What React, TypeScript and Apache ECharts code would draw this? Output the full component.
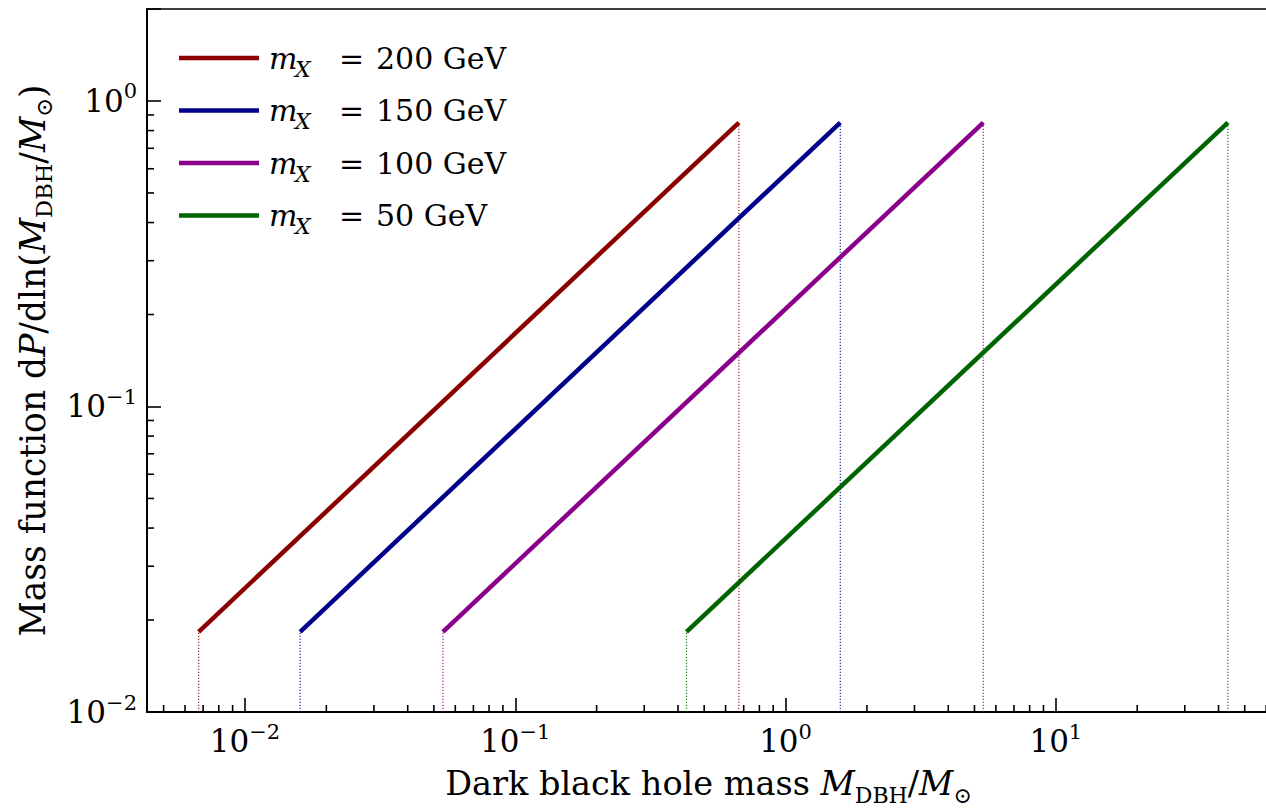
import React, { useEffect, useRef } from 'react';
import * as echarts from 'echarts';

const FONT = 'DejaVu Serif';

// Series data
const massValues = ['200', '150', '100', '50'];
const lineColors = ['#8b0000', '#00008b', '#8b008b', '#006400'];
const massStart = [0.00674, 0.016, 0.054, 0.43];
const massEnd = [0.672, 1.594, 5.39, 43.3];
const probStart = [0.0183, 0.0183, 0.0183, 0.0183];
const probEnd = [0.85, 0.85, 0.85, 0.85];

// Axis ranges and ticks
const xRange = [0.00434, 62];
const yRange = [0.01, 2];
const xMinorTicks = [
  0.005, 0.006, 0.007, 0.008, 0.009,
  0.02, 0.03, 0.04, 0.05, 0.06, 0.07, 0.08, 0.09,
  0.2, 0.3, 0.4, 0.5, 0.6, 0.7, 0.8, 0.9,
  2, 3, 4, 5, 6, 7, 8, 9,
  20, 30, 40, 50, 60,
];
const yMinorTicks = [
  0.02, 0.03, 0.04, 0.05, 0.06, 0.07, 0.08, 0.09,
  0.2, 0.3, 0.4, 0.5, 0.6, 0.7, 0.8, 0.9,
];

const tickRich = {
  b: { fontFamily: FONT, fontSize: 31, lineHeight: 40, color: '#000' },
  s: { fontFamily: FONT, fontSize: 21, lineHeight: 24, verticalAlign: 'top', color: '#000' },
};

const nameRich = {
  n: { fontFamily: FONT, fontSize: 33.5, lineHeight: 46, color: '#000' },
  i: { fontFamily: FONT, fontSize: 33.5, lineHeight: 46, fontStyle: 'italic', color: '#000' },
  sub: { fontFamily: FONT, fontSize: 22, lineHeight: 28, verticalAlign: 'bottom', color: '#000' },
};

const yNameRich = {
  n: { ...nameRich.n, fontSize: 34.5 },
  i: { ...nameRich.i, fontSize: 34.5 },
  sub: { ...nameRich.sub, fontSize: 22.5 },
};

function powLabel(v: number): string {
  const e = Math.log10(v);
  const r = Math.round(e);
  if (Math.abs(e - r) > 1e-6) return '';
  const exp = r < 0 ? '\u2212' + Math.abs(r) : String(r);
  return `{b|10}{s|${exp}}`;
}

function tickSeries(values: number[], axis: 'x' | 'y') {
  return {
    type: 'custom',
    coordinateSystem: 'cartesian2d',
    silent: true,
    clip: false,
    z: 5,
    data: values.map((v) => (axis === 'x' ? [v, yRange[0]] : [xRange[0], v])),
    renderItem: (params: any, api: any) => {
      const p = api.coord([api.value(0), api.value(1)]);
      const shape =
        axis === 'x'
          ? { x1: p[0], y1: p[1], x2: p[0], y2: p[1] - 7 }
          : { x1: p[0], y1: p[1], x2: p[0] + 7, y2: p[1] };
      return { type: 'line', shape, style: { stroke: '#000', lineWidth: 1.6 } };
    },
  };
}

export default function App() {
  const ref = useRef<HTMLDivElement>(null);

  useEffect(() => {
    if (!ref.current) return;
    const chart = echarts.init(ref.current, undefined, { renderer: 'svg' });

    const mainSeries = massValues.map((m, i) => ({
      name: m,
      type: 'line',
      data: [
        [massStart[i], probStart[i]],
        [massEnd[i], probEnd[i]],
      ],
      showSymbol: false,
      symbol: 'none',
      lineStyle: { color: lineColors[i], width: 4.5 },
      itemStyle: { color: lineColors[i] },
      z: 4,
    }));

    const dotted: any[] = [];
    massValues.forEach((m, i) => {
      [
        [massStart[i], probStart[i]],
        [massEnd[i], probEnd[i]],
      ].forEach((pt) => {
        dotted.push({
          name: 'guide-' + m,
          type: 'line',
          data: [
            [pt[0], yRange[0]],
            [pt[0], pt[1]],
          ],
          showSymbol: false,
          symbol: 'none',
          lineStyle: { color: lineColors[i], width: 1.2, type: [1.3, 1.7], opacity: 0.85 },
          z: 3,
        });
      });
    });

    chart.setOption({
      animation: false,
      backgroundColor: '#fff',
      grid: {
        left: 147,
        top: 9,
        width: 1123,
        height: 703,
        show: true,
        borderColor: '#000',
        borderWidth: 1.5,
        backgroundColor: 'transparent',
        outerBoundsMode: 'none',
        containLabel: false,
      },
      legend: {
        data: massValues,
        orient: 'vertical',
        left: 179,
        top: 43,
        padding: 0,
        itemGap: 15.5,
        itemWidth: 80,
        itemHeight: 4.5,
        icon: 'rect',
        selectedMode: false,
        formatter: (name: string) => `{m|m}{x|X}{e|=}{v|${name} GeV}`,
        textStyle: {
          fontFamily: FONT,
          fontSize: 30,
          color: '#000',
          rich: {
            m: { fontFamily: FONT, fontSize: 30, fontStyle: 'italic', lineHeight: 44, width: 26, padding: [0, 0, 0, 5], color: '#000' },
            x: { fontFamily: FONT, fontSize: 22, fontStyle: 'italic', lineHeight: 32, verticalAlign: 'bottom', width: 44, color: '#000' },
            e: { fontFamily: FONT, fontSize: 30, lineHeight: 44, width: 37, color: '#000' },
            v: { fontFamily: FONT, fontSize: 30, lineHeight: 44, color: '#000' },
          },
        },
      },
      xAxis: {
        type: 'log',
        logBase: 10,
        min: xRange[0],
        max: xRange[1],
        position: 'bottom',
        splitLine: { show: false },
        axisLine: { lineStyle: { color: '#000', width: 2 } },
        axisTick: { show: true, inside: true, length: 14, lineStyle: { color: '#000', width: 1.6 } },
        axisLabel: {
          margin: 9,
          formatter: (v: number) => powLabel(v),
          rich: tickRich,
        },
        name:
          '{n|Dark black hole mass }{i|M}{sub|DBH}{n|/}{i|M}{sub|\u2299}',
        nameLocation: 'middle',
        nameGap: 48,
        nameTextStyle: { fontFamily: FONT, fontSize: 33.5, color: '#000', rich: nameRich },
      },
      yAxis: {
        type: 'log',
        logBase: 10,
        min: yRange[0],
        max: yRange[1],
        splitLine: { show: false },
        axisLine: { lineStyle: { color: '#000', width: 2 } },
        axisTick: { show: true, inside: true, length: 14, lineStyle: { color: '#000', width: 1.6 } },
        axisLabel: {
          margin: 10,
          formatter: (v: number) => powLabel(v),
          rich: tickRich,
        },
        name:
          '{n|Mass function d}{i|P}{n|/dln(}{i|M}{sub|DBH}{n|/}{i|M}{sub|\u2299}{n|)}',
        nameLocation: 'middle',
        nameGap: 89,
        nameRotate: 90,
        nameTextStyle: { fontFamily: FONT, fontSize: 34.5, color: '#000', rich: yNameRich },
      },
      series: [
        ...dotted,
        ...mainSeries,
        tickSeries(xMinorTicks, 'x'),
        tickSeries(yMinorTicks, 'y'),
      ],
    });

    return () => {
      chart.dispose();
    };
  }, []);

  return (
    <div
      ref={ref}
      style={{ position: 'absolute', left: 0, top: 0, width: 1266, height: 808, background: '#fff' }}
    />
  );
}
